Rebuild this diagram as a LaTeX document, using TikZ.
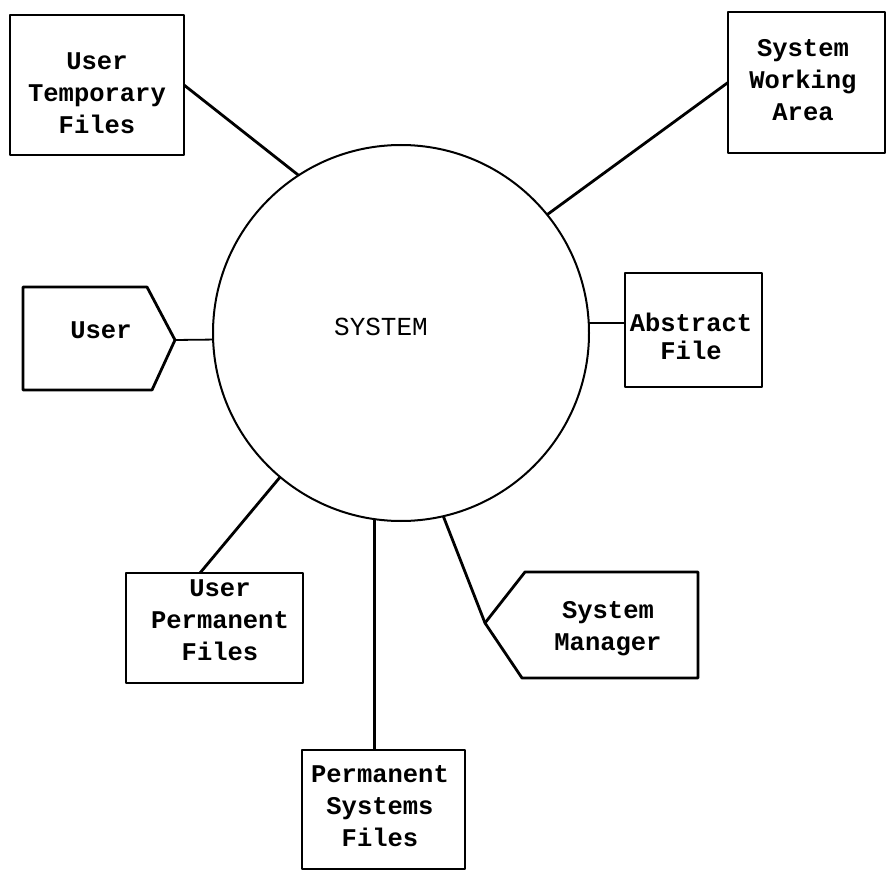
\documentclass[tikz,border=0pt]{standalone}
\usepackage{fontspec}
\newfontfamily\typewriter{Liberation Mono}
\begin{document}
\begin{tikzpicture}[x=1pt,y=-1pt,
  boxline/.style={draw, line width=2.8pt, line join=round},
  framebox/.style={boxline, rectangle, inner sep=0pt, outer sep=0pt},
  conn/.style={line width=2.8pt},
  thinconn/.style={line width=1.8pt},
  lbl/.style={font=\typewriter\bfseries\fontsize{25.5pt}{32pt}\selectfont, align=center, inner sep=0pt}]
\useasboundingbox (0,0) rectangle (887,872);

% central system circle
\node[circle, draw, line width=2pt, minimum size=376pt, inner sep=0pt, outer sep=0pt] (sys) at (401,333) {};
\node[lbl, font=\typewriter\fontsize{26pt}{32pt}\selectfont] (systxt) at (381,327) {SYSTEM};

% rectangular stores
\node[framebox, minimum width=174pt, minimum height=140pt] (utf) at (97,85) {};
\node[framebox, minimum width=157pt, minimum height=141pt] (swa) at (806.5,82.5) {};
\node[framebox, minimum width=137pt, minimum height=114pt] (abs) at (693.5,330) {};
\node[framebox, minimum width=177pt, minimum height=110pt] (upf) at (214.5,628) {};
\node[framebox, minimum width=163pt, minimum height=119pt] (psf) at (383.5,809.5) {};

% pointed actor shapes
\coordinate (userTip) at (175,340);
\draw[boxline] (23,287) -- (147,287) -- (userTip) -- (152,390) -- (23,390) -- cycle;
\coordinate (smTip) at (485,623);
\draw[boxline] (smTip) -- (525,572) -- (698,572) -- (698,678) -- (522,678) -- cycle;

% labels
\node[lbl] (utfT) at (97,93) {User\\Temporary\\Files};
\node[lbl] (swaT) at (803,80) {System\\Working\\Area};
\node[lbl] (userT) at (101,330) {User};
\node[lbl] (absT) at (691,336) {Abstract\\[-4pt]File};
\node[lbl] (upfT) at (220,620) {User\\Permanent\\Files};
\node[lbl] (smT) at (608,629) {System\\Manager};
\node[lbl] (psfT) at (380,806) {Permanent\\Systems\\Files};

% connectors
\draw[conn] (utf.east) -- (sys.123.4);
\draw[conn] (swa.west) -- (sys.39.2);
\draw[thinconn] (userTip) -- (sys.182);
\draw[thinconn] (sys.3.4) -- (sys.3.4 -| abs.west);
\draw[conn] (sys.230) -- ([xshift=-14.5pt]upf.north);
\draw[conn] (sys.262.7) -- (sys.262.7 |- psf.north);
\draw[conn] (sys.283.4) -- (smTip);
\end{tikzpicture}
\end{document}
